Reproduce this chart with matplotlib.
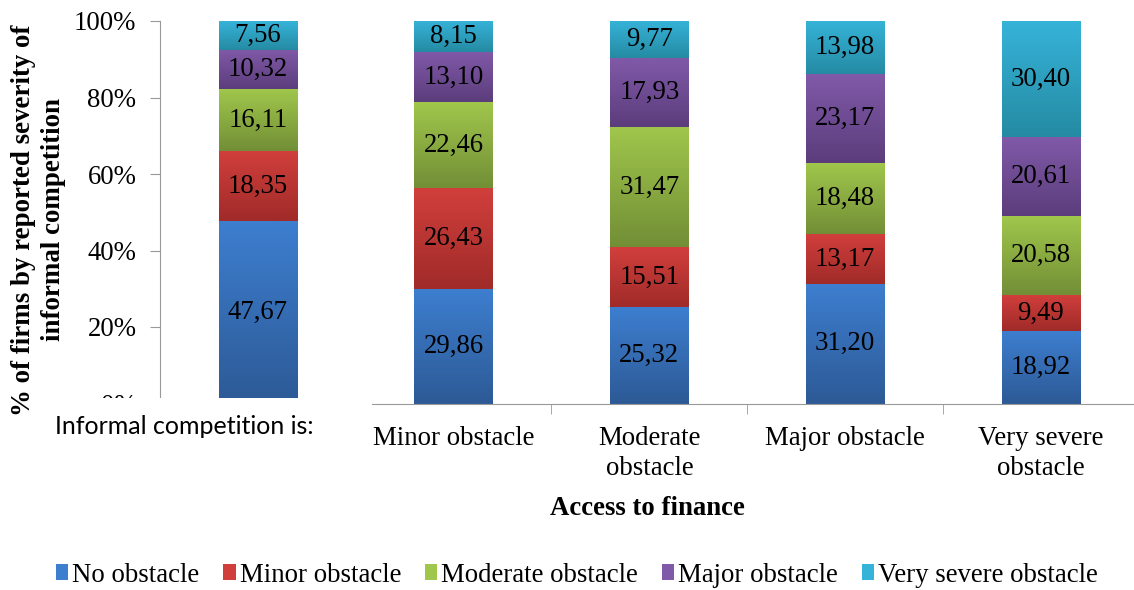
import matplotlib
matplotlib.use('Agg')
import matplotlib.pyplot as plt
import numpy as np
from matplotlib.colors import LinearSegmentedColormap
from matplotlib.patches import Patch, Rectangle

categories = ['', 'Minor obstacle', 'Moderate\nobstacle', 'Major obstacle', 'Very severe\nobstacle']
series = ['No obstacle', 'Minor obstacle', 'Moderate obstacle', 'Major obstacle', 'Very severe obstacle']

no_obstacle = [47.67, 29.86, 25.32, 31.20, 18.92]
minor_obstacle = [18.35, 26.43, 15.51, 13.17, 9.49]
moderate_obstacle = [16.11, 22.46, 31.47, 18.48, 20.58]
major_obstacle = [10.32, 13.10, 17.93, 23.17, 20.61]
very_severe_obstacle = [7.56, 8.15, 9.77, 13.98, 30.40]

values = [no_obstacle, minor_obstacle, moderate_obstacle, major_obstacle, very_severe_obstacle]

# (light top, dark bottom) per series
colors = [('#3d7ecf', '#2d5a96'),
          ('#d13f3c', '#a02b29'),
          ('#a0c64c', '#728f36'),
          ('#8059a8', '#5c3d7c'),
          ('#36b3d9', '#258ba3')]

serif = 'Liberation Serif'
fs = 19.3

fig = plt.figure(figsize=(11.34, 5.9), dpi=100)
ax = fig.add_axes([160 / 1134, 1 - 403.5 / 590, 974 / 1134, 382.5 / 590])

x = np.arange(len(categories))
bottom = np.zeros(len(categories))
grad = np.linspace(0, 1, 64).reshape(-1, 1)
for vals, (light, dark) in zip(values, colors):
    bars = ax.bar(x, vals, 0.4, bottom=bottom, color='none', edgecolor='none', zorder=2)
    cmap = LinearSegmentedColormap.from_list('g', [dark, light])
    for b, v, b0 in zip(bars, vals, bottom):
        x0 = b.get_x()
        im = ax.imshow(grad, extent=[x0, x0 + b.get_width(), b0, b0 + v], origin='lower',
                       cmap=cmap, aspect='auto', zorder=2)
        im.set_clip_path(b)
        ax.text(x0 + b.get_width() / 2, b0 + v / 2, f'{v:.2f}'.replace('.', ','),
                ha='center', va='center', fontsize=fs, family=serif, color='black', zorder=3)
    bottom += np.array(vals)

ax.set_xlim(-0.5, 4.476)
ax.set_ylim(0, 100)
ax.set_aspect('auto')
ax.set_yticks(np.arange(0, 101, 20))
ax.set_yticklabels([f'{t}%' for t in range(0, 101, 20)], family=serif, fontsize=fs)
ax.set_xticks(x)
ax.set_xticklabels(categories, family=serif, fontsize=fs, linespacing=1.3)
ax.set_xticks(np.arange(0.5, 4.5, 1), minor=True)
ax.tick_params(axis='x', which='major', length=0, pad=16)
ax.tick_params(axis='x', which='minor', length=7, color='#999999', direction='out')
ax.tick_params(axis='y', length=7, color='#999999', pad=10)
for s in ['top', 'right']:
    ax.spines[s].set_visible(False)
ax.spines['left'].set_color('#999999')
ax.spines['bottom'].set_color('#999999')

ax.set_ylabel('% of firms by reported severity of\ninformal competition', family=serif,
              fontsize=19.4, fontweight='bold', linespacing=1.22)
ax.yaxis.set_label_coords(-0.097, 0.48)
ax.set_xlabel('Access to finance', family=serif, fontsize=fs, fontweight='bold')
ax.xaxis.set_label_coords(0.5, -0.243)

# white box over the lower left corner (hides the 0% line), with its own caption
fig.patches.append(Rectangle((45 / 1134, 1 - 452 / 590), 327 / 1134, 54 / 590,
                             transform=fig.transFigure, facecolor='white', edgecolor='none',
                             zorder=5))
fig.text(55 / 1134, 1 - 426 / 590, 'Informal competition is:', family='Lato', fontsize=18,
         va='center', ha='left', zorder=6)

handles = [Patch(facecolor=c[0], edgecolor='none') for c in colors]
fig.legend(handles, series, loc='center', bbox_to_anchor=(0.5 + 10 / 1134, 1 - 575 / 590), ncol=5,
           frameon=False, prop={'family': serif, 'size': fs}, handlelength=0.45,
           handleheight=0.5, handletextpad=0.15, columnspacing=0.9)

fig.savefig('out.png', dpi=100)
